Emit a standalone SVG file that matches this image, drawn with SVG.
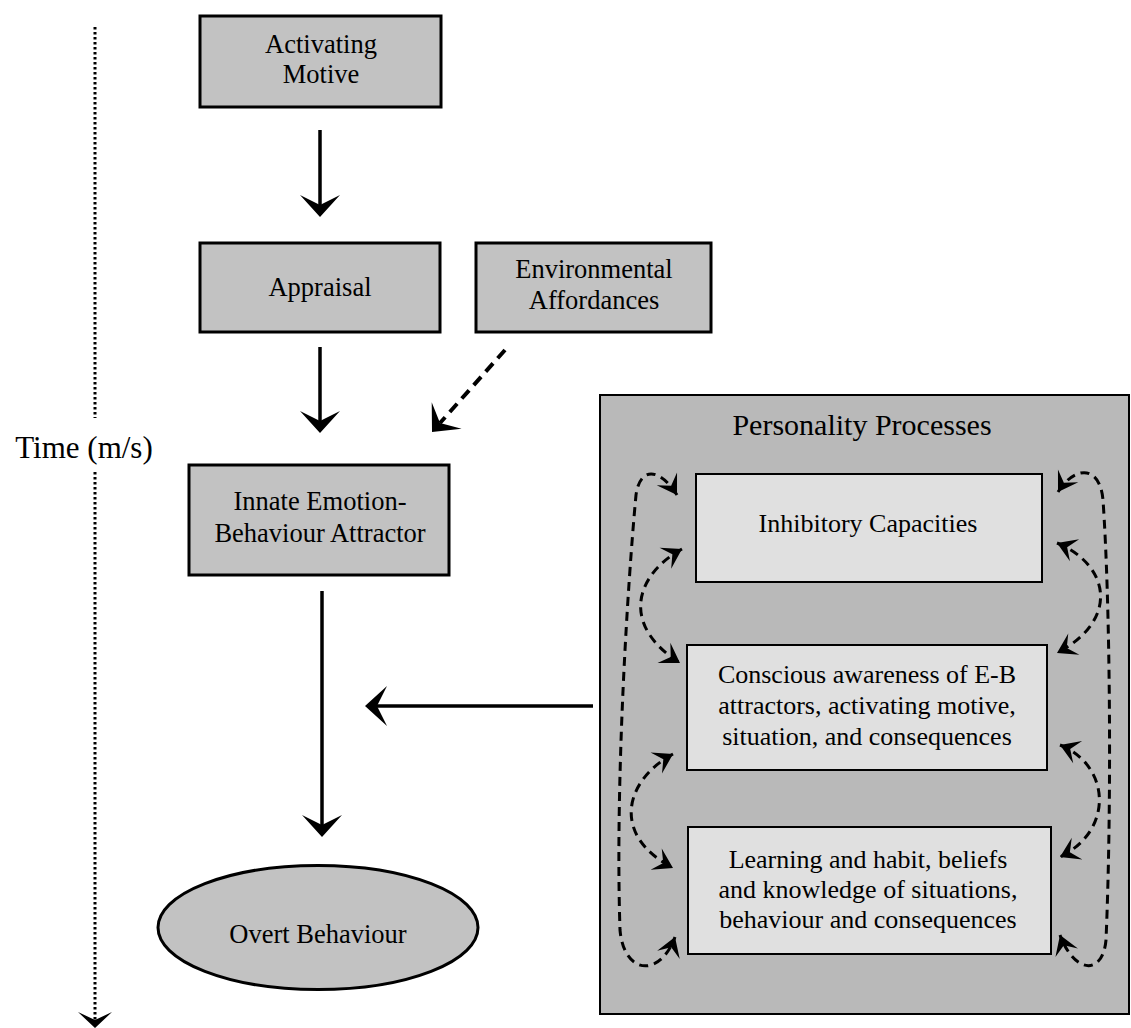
<svg xmlns="http://www.w3.org/2000/svg" width="1131" height="1028" viewBox="0 0 1131 1028">
<defs>
<marker id="ah" viewBox="-24 -22 26 44" refX="-12" refY="0" markerWidth="26" markerHeight="44" markerUnits="userSpaceOnUse" orient="auto">
<path d="M0,0 L-22,-20 L-12,0 L-22,20 Z" fill="#000"/>
</marker>
<marker id="ahs" viewBox="-20 -20 22 40" refX="-8" refY="0" markerWidth="22" markerHeight="40" markerUnits="userSpaceOnUse" orient="auto">
<path d="M0,0 L-16,-17 L-8,0 L-16,17 Z" fill="#000"/>
</marker>
<marker id="ahl" viewBox="-22 -14 24 28" refX="0" refY="0" markerWidth="24" markerHeight="28" markerUnits="userSpaceOnUse" orient="auto-start-reverse">
<path d="M0,0 L-19,-12 L-11,0 L-19,12 Z" fill="#000"/>
</marker>
</defs>
<style>
.node{fill:#c2c2c2;stroke:#000;stroke-width:3}
.cont{fill:#b9b9b9;stroke:#000;stroke-width:2}
.inner{fill:#e0e0e0;stroke:#000;stroke-width:2}
text{font-family:"Liberation Serif","Times New Roman",serif;fill:#000;text-anchor:middle}
.t{font-size:26.5px}
.ti{font-size:26px}
.big{font-size:30px}
.solid{stroke:#000;stroke-width:3.5;fill:none;marker-end:url(#ah)}
.loop{stroke:#000;stroke-width:3;fill:none;stroke-dasharray:9 6;marker-start:url(#ahl);marker-end:url(#ahl)}
</style>
<rect width="1131" height="1028" fill="#fff"/>

<g id="time-axis">
<line x1="95" y1="27" x2="95" y2="418" stroke="#000" stroke-width="3" stroke-dasharray="2.5 2.5"/>
<line x1="95" y1="472" x2="95" y2="1020" stroke="#000" stroke-width="3" stroke-dasharray="2.5 2.5" marker-end="url(#ahs)"/>
<text x="84" y="458" style="font-size:31px">Time (m/s)</text>
</g>

<g id="personality">
<rect class="cont" x="600" y="395" width="529" height="619"/>
<text class="big" x="862" y="435">Personality Processes</text>
</g>

<g id="activating-motive">
<rect class="node" x="200" y="16" width="241" height="91"/>
<text class="t" x="321" y="53">Activating</text>
<text class="t" x="321" y="83">Motive</text>
</g>

<g id="appraisal">
<rect class="node" x="200" y="243" width="240" height="89"/>
<text class="t" x="320" y="296">Appraisal</text>
</g>

<g id="environmental-affordances">
<rect class="node" x="476" y="243" width="235" height="89"/>
<text class="t" x="594" y="278">Environmental</text>
<text class="t" x="594" y="309">Affordances</text>
</g>

<g id="innate-attractor">
<rect class="node" x="189" y="465" width="260" height="110"/>
<text class="t" x="320" y="510">Innate Emotion-</text>
<text class="t" x="320" y="542">Behaviour Attractor</text>
</g>

<g id="overt-behaviour">
<ellipse class="node" cx="318" cy="927.5" rx="160" ry="62"/>
<text class="t" x="318" y="943">Overt Behaviour</text>
</g>

<g id="inhibitory">
<rect class="inner" x="696" y="474" width="346" height="108"/>
<text class="ti" x="868" y="532">Inhibitory Capacities</text>
</g>

<g id="conscious">
<rect class="inner" x="687" y="645" width="360" height="125"/>
<text class="ti" x="867" y="683">Conscious awareness of E-B</text>
<text class="ti" x="867" y="714">attractors, activating motive,</text>
<text class="ti" x="867" y="745">situation, and consequences</text>
</g>

<g id="learning">
<rect class="inner" x="688" y="827" width="363" height="127"/>
<text class="ti" x="868" y="868">Learning and habit, beliefs</text>
<text class="ti" x="868" y="898">and knowledge of situations,</text>
<text class="ti" x="868" y="928">behaviour and consequences</text>
</g>

<g id="connectors">
<line class="solid" x1="320" y1="130" x2="320" y2="205"/>
<line class="solid" x1="320" y1="347" x2="320" y2="421"/>
<line class="solid" x1="322" y1="591" x2="322" y2="825"/>
<line class="solid" x1="593" y1="706" x2="377" y2="706"/>
<line x1="505" y1="350" x2="440" y2="423" stroke="#000" stroke-width="4" stroke-dasharray="11 7" marker-end="url(#ah)"/>
<path class="loop" d="M677 495 C660 468 640 466 636 495 C628 580 615 780 620 930 C624 975 660 978 675 937"/>
<path class="loop" d="M682 549 C635 575 620 625 680 663"/>
<path class="loop" d="M673 754 C625 780 610 835 673 868"/>
<path class="loop" d="M1058 492 C1075 465 1100 465 1103 500 C1110 600 1112 800 1106 940 C1103 975 1075 975 1060 935"/>
<path class="loop" d="M1057 543 C1110 565 1120 620 1057 653"/>
<path class="loop" d="M1060 745 C1110 765 1115 830 1060 857"/>
</g>
</svg>
